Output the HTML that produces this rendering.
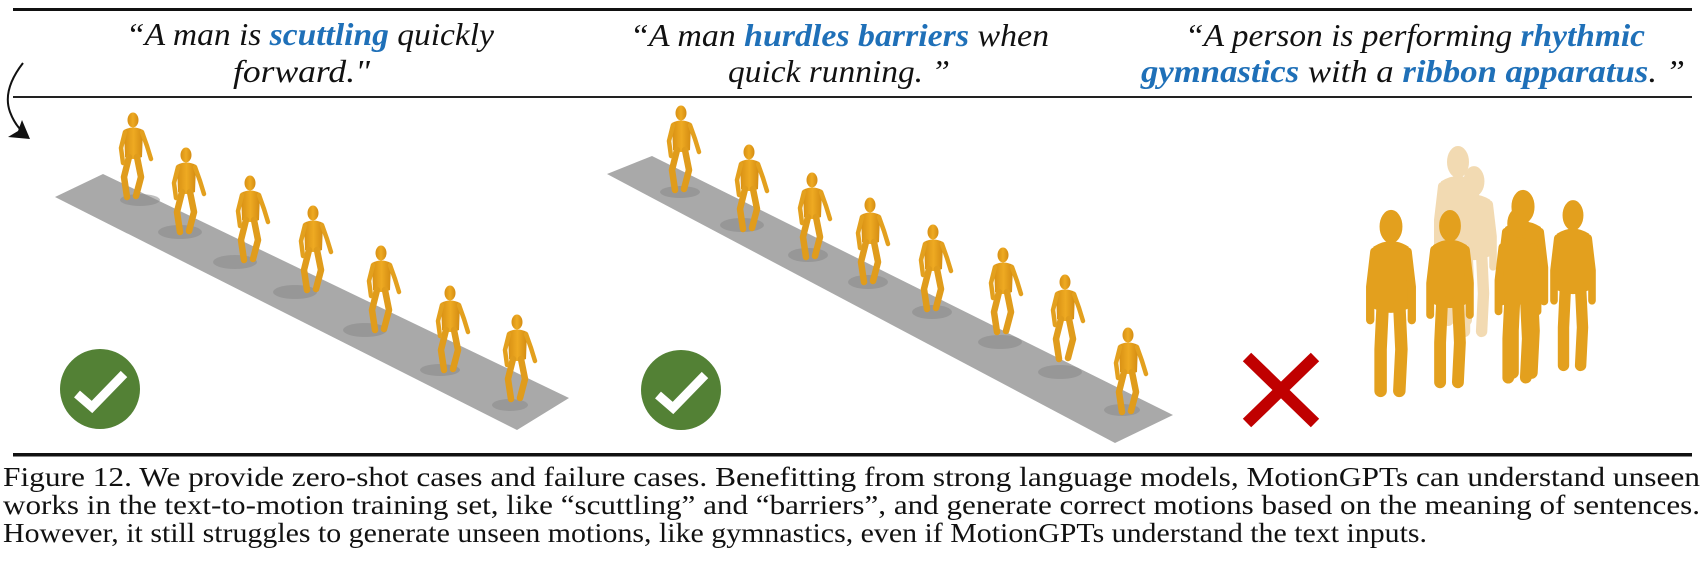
<!DOCTYPE html>
<html><head><meta charset="utf-8"><style>
html,body{margin:0;padding:0;background:#fff;}
svg{display:block;}
</style></head><body>
<svg width="1706" height="573" viewBox="0 0 1706 573" xmlns="http://www.w3.org/2000/svg">
<defs>
<linearGradient id="og" x1="0" y1="0" x2="1" y2="0">
<stop offset="0" stop-color="#d89014"/><stop offset="0.5" stop-color="#eeaa22"/><stop offset="1" stop-color="#d48c12"/>
</linearGradient>
<g id="walk">
<ellipse cx="0" cy="7" rx="5.5" ry="7.5" fill="url(#og)"/>
<path d="M-9,17 Q0,12 10,17 L9,44 Q0,48 -8,44 Z" fill="url(#og)"/>
<path d="M-4,44 L-9,64 L-6,84 M4,44 L8,64 L3,83" stroke="#e09c1c" stroke-width="6.5" fill="none" stroke-linecap="round" stroke-linejoin="round"/>
<path d="M-8,19 L-12,35 L-10,50 M9,19 L14,33 L18,46" stroke="#e3a01e" stroke-width="4.5" fill="none" stroke-linecap="round" stroke-linejoin="round"/>
</g>
<g id="stand">
<ellipse cx="0" cy="7" rx="5" ry="7.5"/>
<path d="M-8,17 Q0,12 8,17 L8,46 Q0,50 -8,46 Z"/>
<path d="M-4,45 L-5,66 L-5,86 M4,45 L5,66 L4,86" stroke-width="6" fill="none" stroke-linecap="round"/>
<path d="M-8,19 L-10,36 L-10,52 M8,19 L10,36 L10,52" stroke-width="4" fill="none" stroke-linecap="round"/>
</g>
</defs>

<rect x="13" y="8" width="1679" height="3" fill="#111"/>
<rect x="13" y="96" width="1679" height="2" fill="#222"/>
<rect x="13" y="453" width="1679" height="3.5" fill="#111"/>

<path d="M23,63 Q2,90 10,112 Q16,128 28,136" stroke="#111" stroke-width="2" fill="none"/>
<path d="M30,139 L8,137 L18,131 L22,120 Z" fill="#111"/>

<g font-family="'Liberation Serif', serif" font-style="italic" font-size="32" fill="#111">
<text x="126" y="45" textLength="368" lengthAdjust="spacingAndGlyphs">“A man is <tspan font-weight="bold" fill="#1f70b8">scuttling</tspan> quickly</text>
<text x="233" y="82" textLength="137" lengthAdjust="spacingAndGlyphs">forward."</text>
<text x="630" y="46" textLength="419" lengthAdjust="spacingAndGlyphs">“A man <tspan font-weight="bold" fill="#1f70b8">hurdles barriers</tspan> when</text>
<text x="728" y="82" textLength="222" lengthAdjust="spacingAndGlyphs">quick running. ”</text>
<text x="1185" y="46" textLength="460" lengthAdjust="spacingAndGlyphs">“A person is performing <tspan font-weight="bold" fill="#1f70b8">rhythmic</tspan></text>
<text x="1141" y="82" textLength="544" lengthAdjust="spacingAndGlyphs"><tspan font-weight="bold" fill="#1f70b8">gymnastics</tspan> with a <tspan font-weight="bold" fill="#1f70b8">ribbon apparatus</tspan>. ”</text>
</g>

<polygon points="55,197 103,174 569,398 517,430" fill="#a9a9a9"/>
<polygon points="607,174 652,156 1173,415 1115,443" fill="#a9a9a9"/>

<g fill="#8a8a8a" opacity="0.55">
<ellipse cx="140" cy="200" rx="20" ry="6"/><ellipse cx="180" cy="232" rx="22" ry="7"/>
<ellipse cx="235" cy="262" rx="22" ry="7"/><ellipse cx="295" cy="292" rx="22" ry="7"/>
<ellipse cx="365" cy="330" rx="22" ry="7"/><ellipse cx="440" cy="370" rx="20" ry="6"/>
<ellipse cx="510" cy="405" rx="18" ry="6"/>
<ellipse cx="680" cy="192" rx="20" ry="6"/><ellipse cx="742" cy="225" rx="22" ry="7"/>
<ellipse cx="808" cy="255" rx="20" ry="7"/><ellipse cx="868" cy="282" rx="20" ry="7"/>
<ellipse cx="932" cy="312" rx="20" ry="7"/><ellipse cx="1000" cy="342" rx="22" ry="7"/>
<ellipse cx="1060" cy="372" rx="22" ry="7"/><ellipse cx="1122" cy="410" rx="18" ry="6"/>
</g>

<use href="#walk" transform="translate(133,113)"/>
<use href="#walk" transform="translate(186,148)"/>
<use href="#walk" transform="translate(250,176)"/>
<use href="#walk" transform="translate(313,206)"/>
<use href="#walk" transform="translate(381,246)"/>
<use href="#walk" transform="translate(450,286)"/>
<use href="#walk" transform="translate(517,315)"/>
<use href="#walk" transform="translate(681,106)"/>
<use href="#walk" transform="translate(749,145)"/>
<use href="#walk" transform="translate(812,173)"/>
<use href="#walk" transform="translate(870,198)"/>
<use href="#walk" transform="translate(933,225)"/>
<use href="#walk" transform="translate(1003,248)"/>
<use href="#walk" transform="translate(1065,275)"/>
<use href="#walk" transform="translate(1128,328)"/>

<g fill="#f0d2a0" stroke="#f0d2a0" opacity="0.8">
<use href="#stand" transform="translate(1458,148) scale(2.0)"/>
<use href="#stand" transform="translate(1474,168) scale(1.9)"/>
</g>
<g fill="#e3a01e" stroke="#e3a01e">
<use href="#stand" transform="translate(1391,212) scale(2.08)"/>
<use href="#stand" transform="translate(1450,212) scale(1.98)"/>
<use href="#stand" transform="translate(1523,192) scale(2.1)"/>
<use href="#stand" transform="translate(1518,210) scale(1.95)"/>
<use href="#stand" transform="translate(1573,202) scale(1.9)"/>
</g>

<circle cx="100" cy="389" r="40" fill="#538135"/>
<polyline points="77,394 92,407 124,374" stroke="#fff" stroke-width="9" fill="none"/>
<circle cx="681" cy="390" r="40" fill="#538135"/>
<polyline points="658,395 673,408 705,375" stroke="#fff" stroke-width="9" fill="none"/>

<path d="M1247,357 L1315,423 M1315,357 L1247,423" stroke="#c00000" stroke-width="12"/>

<g font-family="'Liberation Serif', serif" font-size="27" fill="#111">
<text x="3" y="486" textLength="1697" lengthAdjust="spacingAndGlyphs">Figure 12. We provide zero-shot cases and failure cases. Benefitting from strong language models, MotionGPTs can understand unseen</text>
<text x="3" y="514" textLength="1697" lengthAdjust="spacingAndGlyphs">works in the text-to-motion training set, like “scuttling” and “barriers”, and generate correct motions based on the meaning of sentences.</text>
<text x="3" y="542" textLength="1424" lengthAdjust="spacingAndGlyphs">However, it still struggles to generate unseen motions, like gymnastics, even if MotionGPTs understand the text inputs.</text>
</g>
</svg>
</body></html>
